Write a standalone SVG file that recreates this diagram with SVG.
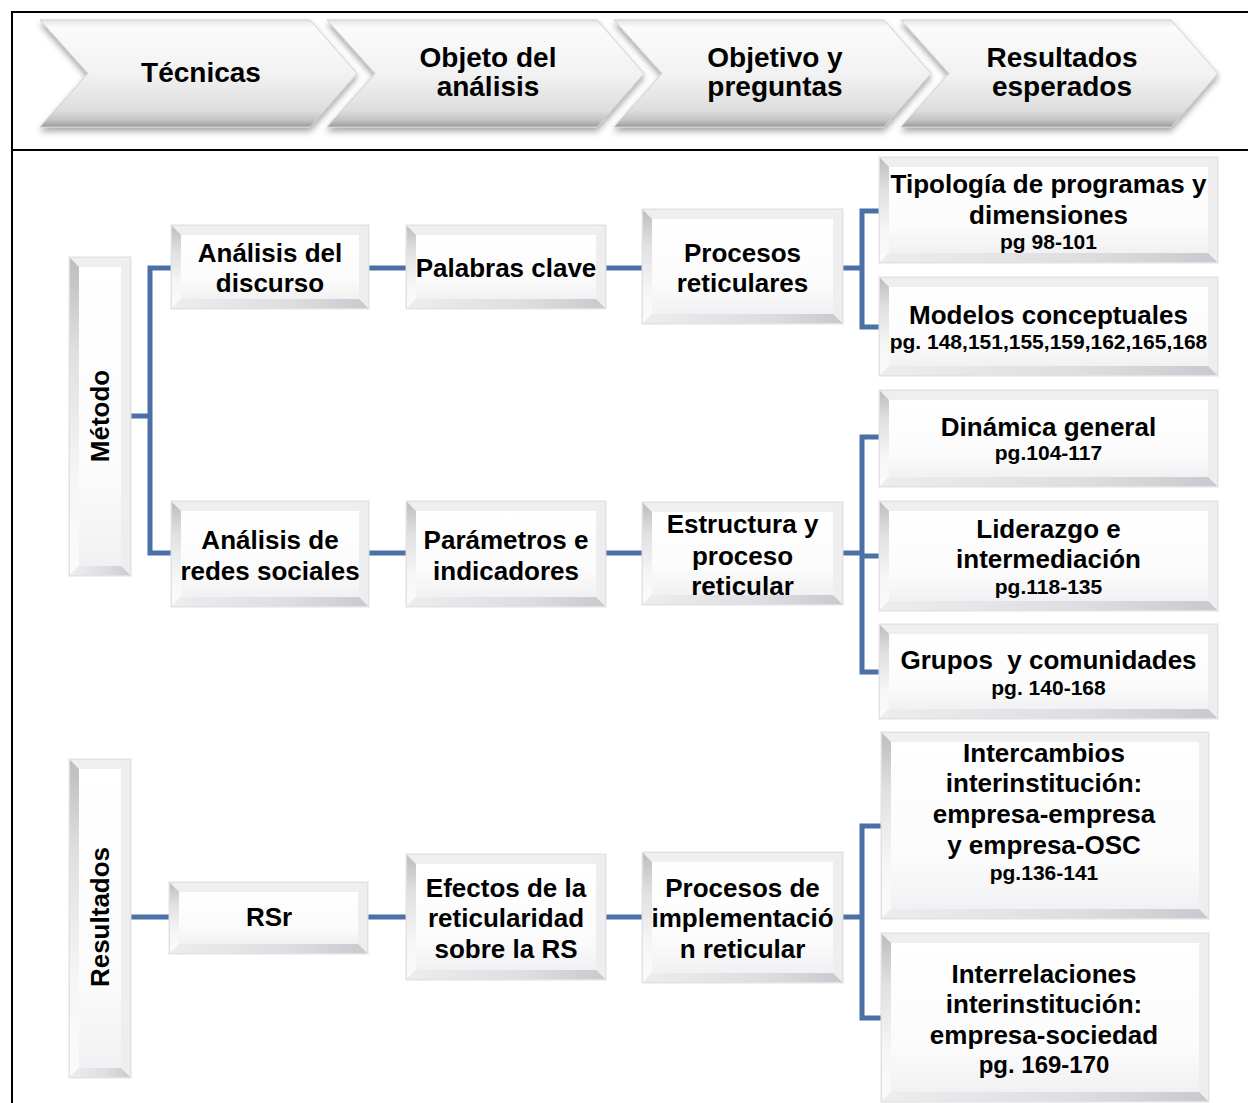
<svg xmlns="http://www.w3.org/2000/svg" width="1248" height="1103" viewBox="0 0 1248 1103">
  <defs>
    <linearGradient id="chevFill" x1="0" y1="0" x2="0" y2="1">
      <stop offset="0" stop-color="#e6e6e6"/>
      <stop offset="0.07" stop-color="#fbfbfb"/>
      <stop offset="0.5" stop-color="#f2f2f2"/>
      <stop offset="0.84" stop-color="#dedede"/>
      <stop offset="0.94" stop-color="#c2c2c2"/>
      <stop offset="1" stop-color="#9a9a9a"/>
    </linearGradient>
    <linearGradient id="face" x1="0" y1="0" x2="0" y2="1">
      <stop offset="0" stop-color="#ffffff"/>
      <stop offset="0.7" stop-color="#fbfbfb"/>
      <stop offset="1" stop-color="#f1f1f3"/>
    </linearGradient>
    <linearGradient id="leftEdge" x1="0" y1="0" x2="0" y2="1">
      <stop offset="0" stop-color="#bdbdbd"/>
      <stop offset="0.3" stop-color="#e0e0e0"/>
      <stop offset="0.7" stop-color="#f6f6f6"/>
      <stop offset="1" stop-color="#fbfbfb"/>
    </linearGradient>
    <linearGradient id="bottomEdge" x1="0" y1="0" x2="1" y2="0">
      <stop offset="0" stop-color="#ededf0"/>
      <stop offset="0.6" stop-color="#dedee2"/>
      <stop offset="1" stop-color="#c8c8ce"/>
    </linearGradient>
    <filter id="shadow" x="-5%" y="-10%" width="110%" height="130%">
      <feGaussianBlur in="SourceAlpha" stdDeviation="3"/>
      <feOffset dx="0" dy="4" result="b"/>
      <feFlood flood-color="#000" flood-opacity="0.35"/>
      <feComposite in2="b" operator="in"/>
      <feMerge>
        <feMergeNode/>
        <feMergeNode in="SourceGraphic"/>
      </feMerge>
    </filter>
  </defs>
  <style>
    text { font-family: "Liberation Sans", Arial, sans-serif; font-weight: bold; fill: #000; text-anchor: middle; }
    .h { font-size: 28px; }
    .t { font-size: 26px; }
    .s { font-size: 21px; }
    .frame { fill: none; stroke: #000; stroke-width: 2; }
    .chev { fill: url(#chevFill); stroke: #cfcfcf; stroke-width: 1; filter: url(#shadow); }
    .rim { fill: #e8e8e8; stroke: #e2e2e2; stroke-width: 3; }
    .bt { fill: #efefef; }
    .bl { fill: url(#leftEdge); }
    .br { fill: #eeeeee; }
    .bb { fill: url(#bottomEdge); }
    .face { fill: url(#face); }
    .link { fill: none; stroke: #4a70a6; stroke-width: 5; }
  </style>

  <rect width="1248" height="1103" fill="#fff"/>

  <!-- table frame -->
  <g id="frame">
    <path class="frame" d="M12,1103 V12 H1248"/>
    <path class="frame" d="M12,150 H1248"/>
  </g>

  <!-- header chevrons -->
  <g id="h-tecnicas">
    <path class="chev" d="M40,20 H310 L357,73.5 L310,127 H40 L88,73.5 Z"/>
    <text class="h" x="201" y="82">Técnicas</text>
  </g>
  <g id="h-objeto">
    <path class="chev" d="M327,20 H597 L644,73.5 L597,127 H327 L375,73.5 Z"/>
    <text class="h" x="488" y="67">Objeto del</text>
    <text class="h" x="488" y="96">análisis</text>
  </g>
  <g id="h-objetivo">
    <path class="chev" d="M614,20 H884 L931,73.5 L884,127 H614 L662,73.5 Z"/>
    <text class="h" x="775" y="67">Objetivo y</text>
    <text class="h" x="775" y="96">preguntas</text>
  </g>
  <g id="h-resultados">
    <path class="chev" d="M901,20 H1171 L1218,73.5 L1171,127 H901 L949,73.5 Z"/>
    <text class="h" x="1062" y="67">Resultados</text>
    <text class="h" x="1062" y="96">esperados</text>
  </g>

  <!-- connectors -->
  <g id="connectors">
    <path class="link" d="M130,416 H150"/>
    <path class="link" d="M172,268 H150 V553 H172"/>
    <path class="link" d="M368,268 H407"/>
    <path class="link" d="M605,268 H643"/>
    <path class="link" d="M842,268 H862"/>
    <path class="link" d="M880,211 H862 V327 H880"/>
    <path class="link" d="M368,553 H407"/>
    <path class="link" d="M605,553 H643"/>
    <path class="link" d="M842,553 H862"/>
    <path class="link" d="M880,437 H862 V672 H880"/>
    <path class="link" d="M862,556 H880"/>
    <path class="link" d="M130,917 H170"/>
    <path class="link" d="M367,917 H407"/>
    <path class="link" d="M605,917 H643"/>
    <path class="link" d="M842,917 H862"/>
    <path class="link" d="M882,826 H862 V1018 H882"/>
  </g>

  <!-- Método -->
  <g id="n-metodo">
    <g transform="translate(70,258)">
      <rect class="rim" width="60" height="317"/>
      <path class="bt" d="M0,0H60L51,9H9Z"/>
      <path class="bl" d="M0,0L9,9V308L0,317Z"/>
      <path class="br" d="M60,0V317L51,308V9Z"/>
      <path class="bb" d="M0,317H60L51,308H9Z"/>
      <rect class="face" x="9" y="9" width="42" height="299"/>
    </g>
    <text class="t" transform="translate(109,416) rotate(-90)">Método</text>
  </g>

  <!-- Resultados -->
  <g id="n-resultados">
    <g transform="translate(70,760)">
      <rect class="rim" width="60" height="317"/>
      <path class="bt" d="M0,0H60L51,9H9Z"/>
      <path class="bl" d="M0,0L9,9V308L0,317Z"/>
      <path class="br" d="M60,0V317L51,308V9Z"/>
      <path class="bb" d="M0,317H60L51,308H9Z"/>
      <rect class="face" x="9" y="9" width="42" height="299"/>
    </g>
    <text class="t" transform="translate(109,917) rotate(-90)">Resultados</text>
  </g>

  <g id="n-analisis-discurso">
    <g transform="translate(172,226)">
      <rect class="rim" width="196" height="82"/>
      <path class="bt" d="M0,0H196L187,9H9Z"/>
      <path class="bl" d="M0,0L9,9V73L0,82Z"/>
      <path class="br" d="M196,0V82L187,73V9Z"/>
      <path class="bb" d="M0,82H196L187,73H9Z"/>
      <rect class="face" x="9" y="9" width="178" height="64"/>
    </g>
    <text class="t" x="270" y="262">Análisis del</text>
    <text class="t" x="270" y="292">discurso</text>
  </g>

  <g id="n-palabras-clave">
    <g transform="translate(407,226)">
      <rect class="rim" width="198" height="82"/>
      <path class="bt" d="M0,0H198L189,9H9Z"/>
      <path class="bl" d="M0,0L9,9V73L0,82Z"/>
      <path class="br" d="M198,0V82L189,73V9Z"/>
      <path class="bb" d="M0,82H198L189,73H9Z"/>
      <rect class="face" x="9" y="9" width="180" height="64"/>
    </g>
    <text class="t" x="506" y="277">Palabras clave</text>
  </g>

  <g id="n-procesos-reticulares">
    <g transform="translate(643,210)">
      <rect class="rim" width="199" height="113"/>
      <path class="bt" d="M0,0H199L190,9H9Z"/>
      <path class="bl" d="M0,0L9,9V104L0,113Z"/>
      <path class="br" d="M199,0V113L190,104V9Z"/>
      <path class="bb" d="M0,113H199L190,104H9Z"/>
      <rect class="face" x="9" y="9" width="181" height="95"/>
    </g>
    <text class="t" x="742.5" y="262">Procesos</text>
    <text class="t" x="742.5" y="292">reticulares</text>
  </g>

  <g id="n-tipologia">
    <g transform="translate(880,158)">
      <rect class="rim" width="337" height="104"/>
      <path class="bt" d="M0,0H337L328,9H9Z"/>
      <path class="bl" d="M0,0L9,9V95L0,104Z"/>
      <path class="br" d="M337,0V104L328,95V9Z"/>
      <path class="bb" d="M0,104H337L328,95H9Z"/>
      <rect class="face" x="9" y="9" width="319" height="86"/>
    </g>
    <text class="t" x="1048.5" y="193">Tipología de programas y</text>
    <text class="t" x="1048.5" y="224">dimensiones</text>
    <text class="s" x="1048.5" y="249">pg 98-101</text>
  </g>

  <g id="n-modelos">
    <g transform="translate(880,278)">
      <rect class="rim" width="337" height="97"/>
      <path class="bt" d="M0,0H337L328,9H9Z"/>
      <path class="bl" d="M0,0L9,9V88L0,97Z"/>
      <path class="br" d="M337,0V97L328,88V9Z"/>
      <path class="bb" d="M0,97H337L328,88H9Z"/>
      <rect class="face" x="9" y="9" width="319" height="79"/>
    </g>
    <text class="t" x="1048.5" y="324">Modelos conceptuales</text>
    <text class="s" x="1048.5" y="349">pg. 148,151,155,159,162,165,168</text>
  </g>

  <g id="n-analisis-redes">
    <g transform="translate(172,502)">
      <rect class="rim" width="196" height="104"/>
      <path class="bt" d="M0,0H196L187,9H9Z"/>
      <path class="bl" d="M0,0L9,9V95L0,104Z"/>
      <path class="br" d="M196,0V104L187,95V9Z"/>
      <path class="bb" d="M0,104H196L187,95H9Z"/>
      <rect class="face" x="9" y="9" width="178" height="86"/>
    </g>
    <text class="t" x="270" y="549">Análisis de</text>
    <text class="t" x="270" y="580">redes sociales</text>
  </g>

  <g id="n-parametros">
    <g transform="translate(407,502)">
      <rect class="rim" width="198" height="104"/>
      <path class="bt" d="M0,0H198L189,9H9Z"/>
      <path class="bl" d="M0,0L9,9V95L0,104Z"/>
      <path class="br" d="M198,0V104L189,95V9Z"/>
      <path class="bb" d="M0,104H198L189,95H9Z"/>
      <rect class="face" x="9" y="9" width="180" height="86"/>
    </g>
    <text class="t" x="506" y="549">Parámetros e</text>
    <text class="t" x="506" y="580">indicadores</text>
  </g>

  <g id="n-estructura">
    <g transform="translate(643,503)">
      <rect class="rim" width="199" height="101"/>
      <path class="bt" d="M0,0H199L190,9H9Z"/>
      <path class="bl" d="M0,0L9,9V92L0,101Z"/>
      <path class="br" d="M199,0V101L190,92V9Z"/>
      <path class="bb" d="M0,101H199L190,92H9Z"/>
      <rect class="face" x="9" y="9" width="181" height="83"/>
    </g>
    <text class="t" x="742.5" y="533">Estructura y</text>
    <text class="t" x="742.5" y="565">proceso</text>
    <text class="t" x="742.5" y="595">reticular</text>
  </g>

  <g id="n-dinamica">
    <g transform="translate(880,391)">
      <rect class="rim" width="337" height="95"/>
      <path class="bt" d="M0,0H337L328,9H9Z"/>
      <path class="bl" d="M0,0L9,9V86L0,95Z"/>
      <path class="br" d="M337,0V95L328,86V9Z"/>
      <path class="bb" d="M0,95H337L328,86H9Z"/>
      <rect class="face" x="9" y="9" width="319" height="77"/>
    </g>
    <text class="t" x="1048.5" y="436">Dinámica general</text>
    <text class="s" x="1048.5" y="460">pg.104-117</text>
  </g>

  <g id="n-liderazgo">
    <g transform="translate(880,502)">
      <rect class="rim" width="337" height="108"/>
      <path class="bt" d="M0,0H337L328,9H9Z"/>
      <path class="bl" d="M0,0L9,9V99L0,108Z"/>
      <path class="br" d="M337,0V108L328,99V9Z"/>
      <path class="bb" d="M0,108H337L328,99H9Z"/>
      <rect class="face" x="9" y="9" width="319" height="90"/>
    </g>
    <text class="t" x="1048.5" y="538">Liderazgo e</text>
    <text class="t" x="1048.5" y="568">intermediación</text>
    <text class="s" x="1048.5" y="594">pg.118-135</text>
  </g>

  <g id="n-grupos">
    <g transform="translate(880,625)">
      <rect class="rim" width="337" height="93"/>
      <path class="bt" d="M0,0H337L328,9H9Z"/>
      <path class="bl" d="M0,0L9,9V84L0,93Z"/>
      <path class="br" d="M337,0V93L328,84V9Z"/>
      <path class="bb" d="M0,93H337L328,84H9Z"/>
      <rect class="face" x="9" y="9" width="319" height="75"/>
    </g>
    <text class="t" x="1048.5" y="669" xml:space="preserve">Grupos  y comunidades</text>
    <text class="s" x="1048.5" y="695">pg. 140-168</text>
  </g>

  <g id="n-rsr">
    <g transform="translate(170,883)">
      <rect class="rim" width="197" height="70"/>
      <path class="bt" d="M0,0H197L188,9H9Z"/>
      <path class="bl" d="M0,0L9,9V61L0,70Z"/>
      <path class="br" d="M197,0V70L188,61V9Z"/>
      <path class="bb" d="M0,70H197L188,61H9Z"/>
      <rect class="face" x="9" y="9" width="179" height="52"/>
    </g>
    <text class="t" x="269" y="926">RSr</text>
  </g>

  <g id="n-efectos">
    <g transform="translate(407,855)">
      <rect class="rim" width="198" height="124"/>
      <path class="bt" d="M0,0H198L189,9H9Z"/>
      <path class="bl" d="M0,0L9,9V115L0,124Z"/>
      <path class="br" d="M198,0V124L189,115V9Z"/>
      <path class="bb" d="M0,124H198L189,115H9Z"/>
      <rect class="face" x="9" y="9" width="180" height="106"/>
    </g>
    <text class="t" x="506" y="897">Efectos de la</text>
    <text class="t" x="506" y="927">reticularidad</text>
    <text class="t" x="506" y="958">sobre la RS</text>
  </g>

  <g id="n-procesos-implementacion">
    <g transform="translate(643,853)">
      <rect class="rim" width="199" height="129"/>
      <path class="bt" d="M0,0H199L190,9H9Z"/>
      <path class="bl" d="M0,0L9,9V120L0,129Z"/>
      <path class="br" d="M199,0V129L190,120V9Z"/>
      <path class="bb" d="M0,129H199L190,120H9Z"/>
      <rect class="face" x="9" y="9" width="181" height="111"/>
    </g>
    <text class="t" x="742.5" y="897">Procesos de</text>
    <text class="t" x="742.5" y="927">implementació</text>
    <text class="t" x="742.5" y="958">n reticular</text>
  </g>

  <g id="n-intercambios">
    <g transform="translate(882,733)">
      <rect class="rim" width="326" height="185"/>
      <path class="bt" d="M0,0H326L317,9H9Z"/>
      <path class="bl" d="M0,0L9,9V176L0,185Z"/>
      <path class="br" d="M326,0V185L317,176V9Z"/>
      <path class="bb" d="M0,185H326L317,176H9Z"/>
      <rect class="face" x="9" y="9" width="308" height="167"/>
    </g>
    <text class="t" x="1044" y="762">Intercambios</text>
    <text class="t" x="1044" y="792">interinstitución:</text>
    <text class="t" x="1044" y="823">empresa-empresa</text>
    <text class="t" x="1044" y="854">y empresa-OSC</text>
    <text class="s" x="1044" y="880">pg.136-141</text>
  </g>

  <g id="n-interrelaciones">
    <g transform="translate(882,934)">
      <rect class="rim" width="326" height="167"/>
      <path class="bt" d="M0,0H326L317,9H9Z"/>
      <path class="bl" d="M0,0L9,9V158L0,167Z"/>
      <path class="br" d="M326,0V167L317,158V9Z"/>
      <path class="bb" d="M0,167H326L317,158H9Z"/>
      <rect class="face" x="9" y="9" width="308" height="149"/>
    </g>
    <text class="t" x="1044" y="983">Interrelaciones</text>
    <text class="t" x="1044" y="1013">interinstitución:</text>
    <text class="t" x="1044" y="1044">empresa-sociedad</text>
    <text class="t" x="1044" y="1073" style="font-size:24px">pg. 169-170</text>
  </g>
</svg>
